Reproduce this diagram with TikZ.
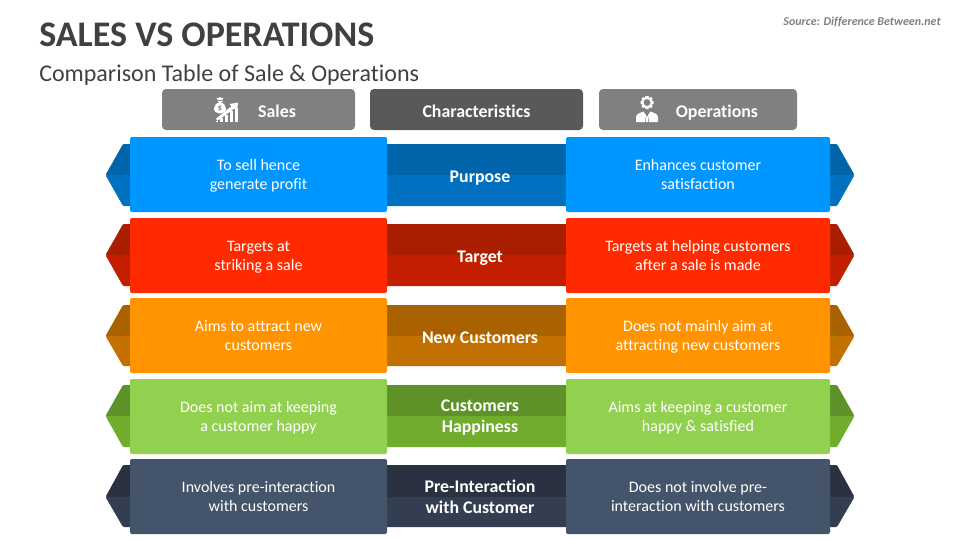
\documentclass[tikz,border=0pt]{standalone}
\usepackage{fontspec}
\setmainfont[Ligatures=NoCommon]{Carlito}
\definecolor{txtdark}{HTML}{404040}
\definecolor{hgray}{HTML}{808080}
\definecolor{hdark}{HTML}{595959}
\definecolor{ca}{HTML}{0096FF}\definecolor{cat}{HTML}{0064AA}\definecolor{cab}{HTML}{0070C0}
\definecolor{cb}{HTML}{FF2A00}\definecolor{cbt}{HTML}{AA1E00}\definecolor{cbb}{HTML}{C41E00}
\definecolor{cc}{HTML}{FF9300}\definecolor{cct}{HTML}{AA6200}\definecolor{ccb}{HTML}{C27000}
\definecolor{cd}{HTML}{92D050}\definecolor{cdt}{HTML}{5E9127}\definecolor{cdb}{HTML}{70AD2D}
\definecolor{ce}{HTML}{44546A}\definecolor{cet}{HTML}{2A3242}\definecolor{ceb}{HTML}{333F50}
\newlength{\px}\setlength{\px}{0.75pt}
\newcommand{\celltext}[1]{\raisebox{-4pt}[0pt][0pt]{\begin{tabular}{@{}c@{}}#1\end{tabular}}}
\tikzset{
  x=0.75pt,y=-0.75pt,
  hdr/.style={rounded corners=3pt,inner sep=0pt,minimum height=41*\px},
  hdrlab/.style={text=white,inner sep=0pt,font=\fontsize{13.4}{16}\selectfont\bfseries,execute at begin node=\strut},
  cell/.style={rounded corners=1.5pt,inner sep=0pt,minimum height=75*\px,text=white,font=\fontsize{12}{14.3}\selectfont},
  lab/.style={text=white,inner sep=0pt,align=center,font=\fontsize{13.35}{15.7}\selectfont\bfseries,execute at begin node=\strut,execute at end node=\strut},
  icon/.style={fill=white,draw=none},
  wing/.style={rounded corners=0.8pt}
}
% #1 row id, #2 cell top, #3 band top, #4 band mid, #5 band bottom, #6 colour, #7 left, #8 mid, #9 right
\newcommand{\tablerow}[9]{%
  \pgfmathsetmacro{\yc}{#2+37.5}
  \fill[#6t,wing] (140,#3) -- (123,#3) -- (105.5,#4) -- (854.5,#4) -- (837,#3) -- cycle;
  \fill[#6b,wing] (140,#5) -- (123,#5) -- (105.5,#4) -- (854.5,#4) -- (837,#5) -- cycle;
  \node[cell,fill=#6,minimum width=257*\px] (#1L) at (258.5,\yc) {\celltext{#7}};
  \node[cell,fill=#6,minimum width=264*\px] (#1R) at (698,\yc) {\celltext{#9}};
  \node[lab] (#1M) at (480,#4+3) {#8};
}
\begin{document}
\begin{tikzpicture}
\useasboundingbox (0,0) rectangle (960,540);
\node[anchor=west,inner sep=0pt,text=txtdark,font=\fontsize{27}{30}\selectfont\bfseries] (title) at (39,34.5) {SALES VS OPERATIONS};
\node[anchor=west,inner sep=0pt,text=txtdark,font=\fontsize{18}{22}\selectfont] (subtitle) at (39,75) {Comparison Table of Sale \& Operations};
\node[anchor=east,inner sep=0pt,text=hgray,font=\fontsize{9}{11}\selectfont\bfseries\itshape] (source) at (941,22) {Source: Difference Between.net};
\node[hdr,fill=hgray,minimum width=193*\px] (hSales) at (258.5,109.5) {};
\node[hdr,fill=hdark,minimum width=213*\px] (hChar) at (476.5,109.5) {};
\node[hdr,fill=hgray,minimum width=198*\px] (hOps) at (698,109.5) {};
\node[hdrlab] (tSales) at (277,113) {Sales};
\node[hdrlab] (tChar) at (476.5,113) {Characteristics};
\node[hdrlab] (tOps) at (717,113) {Operations};
% sales icon: money bag
\fill[icon] (220,102) .. controls (216,103) and (214,106) .. (214,108.5) .. controls (214,112) and (217,113.5) .. (220,113.5) .. controls (223,113.5) and (226,112) .. (226,108.5) .. controls (226,106) and (224,103) .. (220,102) -- cycle;
\fill[icon] (217.5,100.8) rectangle (222.5,102.3);
\fill[icon] (216.5,97.5) -- (218.5,98.3) -- (220,97) -- (221.5,98.3) -- (223.5,97.5) -- (222.3,100.2) -- (217.7,100.2) -- cycle;
\node[inner sep=0pt,text=hgray,font=\fontsize{6}{7}\selectfont\bfseries] (dollar) at (220,108) {\$};
% sales icon: bars and arrow
\fill[icon] (215.5,122) rectangle (218,120.5);
\fill[icon] (220,122) rectangle (223,118);
\fill[icon] (225,122) rectangle (228,114.5);
\fill[icon] (230,122) rectangle (233,111);
\fill[icon] (235,122) rectangle (237.5,107.5);
\fill[icon] (216,118.7) -- (231.5,106.2) -- (229.5,104) -- (238.2,102.5) -- (236.8,111) -- (234.4,108.6) -- (217.5,120.7) -- cycle;
% operations icon: gear
\begin{scope}[shift={(647,102.5)}]
\fill[icon,even odd rule] (-6.5,-1.5) -- (-4.5,-2) -- (-5.5,-4) -- (-4,-5.5) -- (-2,-4.5) -- (-1.5,-6.5) -- (1.5,-6.5) -- (2,-4.5) -- (4,-5.5) -- (5.5,-4) -- (4.5,-2) -- (6.5,-1.5) -- (6.5,1.5) -- (4.5,2) -- (5.5,4) -- (4,5.5) -- (2,4.5) -- (1.5,6.5) -- (-1.5,6.5) -- (-2,4.5) -- (-4,5.5) -- (-5.5,4) -- (-4.5,2) -- (-6.5,1.5) -- cycle (0,0) circle[radius=3.6];
\end{scope}
% operations icon: person
\fill[icon] (636,122) -- (636,117) .. controls (636,114) and (640,113) .. (643.5,111.5) -- (646,115) -- (645,122) -- cycle;
\fill[icon] (658,122) -- (658,117) .. controls (658,114) and (654,113) .. (650.5,111.5) -- (648,115) -- (649,122) -- cycle;
\fill[icon] (646.3,116) -- (647.7,116) -- (648.2,122) -- (645.8,122) -- cycle;
\tablerow{a}{137}{144}{175}{206}{ca}{To sell hence\\generate profit}{Purpose}{Enhances customer\\satisfaction}
\tablerow{b}{218}{224}{255}{286}{cb}{Targets at\\striking a sale}{Target}{Targets at helping customers\\after a sale is made}
\tablerow{c}{298}{305}{336}{366}{cc}{Aims to attract new\\customers}{New Customers}{Does not mainly aim at\\attracting new customers}
\tablerow{d}{379}{385}{416}{447}{cd}{Does not aim at keeping\\a customer happy}{Customers\\Happiness}{Aims at keeping a customer\\happy \& satisfied}
\tablerow{e}{459}{465}{497}{527}{ce}{Involves pre-interaction\\with customers}{Pre-Interaction\\with Customer}{Does not involve pre-\\interaction with customers}
\end{tikzpicture}
\end{document}
